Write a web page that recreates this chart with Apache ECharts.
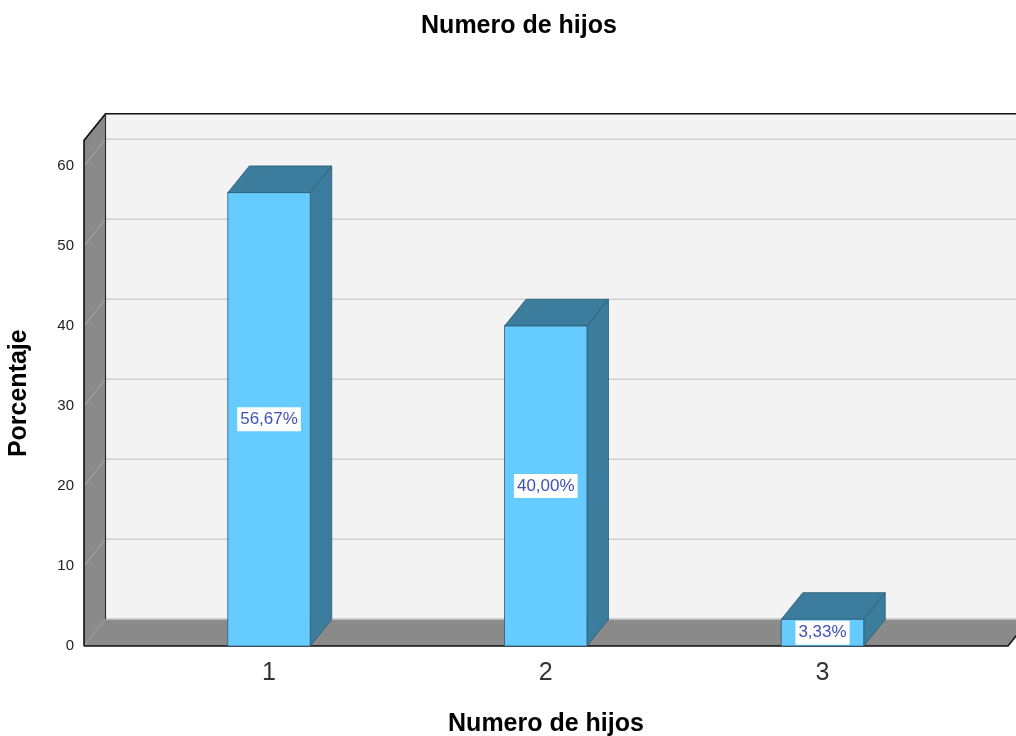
<!DOCTYPE html>
<html>
<head>
<meta charset="utf-8">
<script src="https://cdn.jsdelivr.net/npm/echarts@6/dist/echarts.min.js"></script>
<style>
  html, body { margin: 0; padding: 0; background: #fff; }
  #chart { width: 1016px; height: 736px; }
</style>
</head>
<body>
<div id="chart"></div>
<script>
// datos del grafico
const categories = ["1", "2", "3"];
const percentValues = [56.67, 40.0, 3.33];
const percentLabels = ["56,67%", "40,00%", "3,33%"];
const yTicks = [0, 10, 20, 30, 40, 50, 60];

// escala del eje x (valor) para que las barras caigan donde el original
const X_MIN = 0.3315;
const X_MAX = 3.6703;
const Y_MAX = 63.2;
const DX = 21.5; // profundidad 3D
const DY = -26.7;
const BAR_FRAC = 0.298;

const FONT = "Liberation Sans, Arial, sans-serif";

function renderBox(params, api) {
  const p0 = api.coord([X_MIN, 0]);
  const p1 = api.coord([X_MAX, 0]);
  const pTop = api.coord([X_MIN, Y_MAX]);
  const farRight = 1060;
  const children = [];

  // pared del fondo
  children.push({
    type: "rect",
    shape: { x: p0[0] + DX, y: pTop[1] + DY, width: farRight - p0[0], height: p0[1] - pTop[1] },
    style: { fill: "#F3F3F3" },
  });
  // lineas de division en la pared
  yTicks.forEach((t) => {
    const y = api.coord([X_MIN, t])[1];
    children.push({
      type: "line",
      shape: { x1: p0[0] + DX, y1: y + DY, x2: farRight, y2: y + DY },
      style: { stroke: "#CFCFCF", lineWidth: 1.5 },
    });
  });
  // pared izquierda
  children.push({
    type: "polygon",
    shape: { points: [[p0[0], p0[1]], [p0[0] + DX, p0[1] + DY], [pTop[0] + DX, pTop[1] + DY], [pTop[0], pTop[1]]] },
    style: { fill: "#8A8A8A" },
  });
  yTicks.forEach((t) => {
    const y = api.coord([X_MIN, t])[1];
    children.push({
      type: "line",
      shape: { x1: p0[0], y1: y, x2: p0[0] + DX, y2: y + DY },
      style: { stroke: "#ABABAB", lineWidth: 1, lineDash: t === 0 ? [2, 1] : null },
    });
  });
  // suelo
  children.push({
    type: "polygon",
    shape: { points: [[p0[0], p0[1]], [p1[0], p1[1]], [p1[0] + DX, p1[1] + DY], [p0[0] + DX, p0[1] + DY]] },
    style: { fill: "#8A8A8A" },
  });
  children.push({
    type: "line",
    shape: { x1: p0[0] + DX, y1: p0[1] + DY, x2: farRight, y2: p0[1] + DY },
    style: { stroke: "#BDBDBD", lineWidth: 1.5 },
  });
  // bordes
  const edge = { stroke: "#111", lineWidth: 1.6 };
  children.push({ type: "polyline", shape: { points: [[p0[0], p0[1]], [p1[0], p1[1]], [p1[0] + DX, p1[1] + DY]] }, style: Object.assign({ fill: null }, edge) });
  children.push({ type: "polyline", shape: { points: [[p0[0], p0[1]], [pTop[0], pTop[1]], [pTop[0] + DX, pTop[1] + DY], [farRight, pTop[1] + DY]] }, style: Object.assign({ fill: null }, edge) });
  children.push({ type: "line", shape: { x1: pTop[0] + DX, y1: pTop[1] + DY, x2: p0[0] + DX, y2: p0[1] + DY }, style: { stroke: "#333", lineWidth: 1.2 } });

  return { type: "group", children: children };
}

function renderBar(params, api) {
  const x = api.value(0);
  const v = api.value(1);
  const bw = api.size([1, 0])[0] * BAR_FRAC;
  const top = api.coord([x, v]);
  const base = api.coord([x, 0]);
  const x0 = top[0] - bw / 2;
  const x1 = top[0] + bw / 2;
  const yT = top[1];
  const yB = base[1];
  const dark = "#3C7C9C";
  const line = { stroke: "#2C5C74", lineWidth: 0.8 };
  return {
    type: "group",
    children: [
      {
        type: "polygon",
        shape: { points: [[x1, yT], [x1 + DX, yT + DY], [x1 + DX, yB + DY], [x1, yB]] },
        style: Object.assign({ fill: dark }, line),
      },
      {
        type: "polygon",
        shape: { points: [[x0, yT], [x0 + DX, yT + DY], [x1 + DX, yT + DY], [x1, yT]] },
        style: Object.assign({ fill: dark }, line),
      },
      {
        type: "rect",
        shape: { x: x0, y: yT, width: bw, height: yB - yT },
        style: Object.assign({ fill: "#66CCFF" }, line),
      },
      {
        type: "text",
        x: top[0],
        y: (yT + yB) / 2,
        style: {
          text: percentLabels[params.dataIndex],
          fill: "#3F51B5",
          font: "17px " + FONT,
          align: "center",
          verticalAlign: "middle",
          backgroundColor: "#fff",
          padding: [4, 3, 3, 3],
        },
      },
    ],
  };
}

const chart = echarts.init(document.getElementById("chart"));
chart.setOption({
  animation: false,
  title: {
    text: "Numero de hijos",
    left: 514,
    textAlign: "center",
    top: 9,
    textStyle: { fontFamily: FONT, fontWeight: "bold", fontSize: 25, color: "#000" },
  },
  grid: { left: 84, right: 8, top: 140.4, bottom: 90, outerBoundsMode: "none" },
  xAxis: {
    type: "value",
    min: X_MIN,
    max: X_MAX,
    axisLine: { show: false },
    axisTick: { show: false },
    splitLine: { show: false },
    axisLabel: {
      customValues: [1, 2, 3],
      formatter: (v) => categories[Math.round(v) - 1],
      fontFamily: FONT,
      fontSize: 25,
      color: "#333",
      margin: 15,
    },
    name: "Numero de hijos",
    nameLocation: "middle",
    nameGap: 66,
    nameTextStyle: { fontFamily: FONT, fontWeight: "bold", fontSize: 25, color: "#000" },
  },
  yAxis: {
    type: "value",
    min: 0,
    max: Y_MAX,
    interval: 10,
    axisLine: { show: false },
    axisTick: { show: false },
    splitLine: { show: false },
    axisLabel: {
      customValues: yTicks,
      fontFamily: FONT,
      fontSize: 15,
      color: "#222",
      margin: 10,
    },
    name: "Porcentaje",
    nameLocation: "middle",
    nameGap: 52,
    nameTextStyle: { fontFamily: FONT, fontWeight: "bold", fontSize: 25, color: "#000" },
  },
  series: [
    {
      type: "custom",
      clip: false,
      silent: true,
      renderItem: renderBox,
      data: [[X_MIN, 0]],
      z: 1,
    },
    {
      type: "custom",
      clip: false,
      renderItem: renderBar,
      data: percentValues.map((v, i) => [i + 1, v]),
      z: 2,
    },
  ],
});
</script>
</body>
</html>
